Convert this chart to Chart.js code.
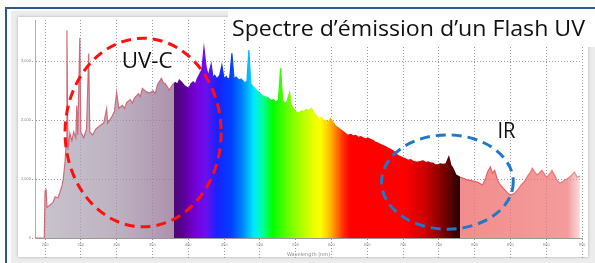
<!DOCTYPE html>
<html>
<head>
<meta charset="utf-8">
<script src="https://cdn.jsdelivr.net/npm/chart.js@4.4.1/dist/chart.umd.min.js"></script>
<style>
  html, body { margin: 0; padding: 0; background: #fff; }
  #wrap { position: relative; width: 595px; height: 263px; overflow: hidden; }
  #frame { position: absolute; left: 5px; top: 7px; right: -10px; bottom: -10px; border-top: 2px solid #2f5597; border-left: 2px solid #2f5597; }
  #shade { position: absolute; left: 11px; top: 11px; right: 0; bottom: 0; background: #ececec; }
  #panel { position: absolute; left: 18px; top: 17px; right: 7px; bottom: 6px; background: #fff; box-shadow: 0 0 3px rgba(0,0,0,0.25); }
  canvas { position: absolute; left: 0; top: 0; }
</style>
</head>
<body>
<div id="wrap">
  <div id="frame"></div>
  <div id="shade"></div>
  <div id="panel"></div>
  <canvas id="spectrum" width="595" height="263"></canvas>
</div>
<script>
// Spectrum data (wavelength in nm, intensity in counts)
const wavelengths = [
  186, 199, 200, 201.4, 202.8, 207, 211, 214, 218, 221, 224, 225.5, 228, 229.5, 230.6, 232, 234.7, 237.5,
  240, 243, 244.4, 245.8, 248.6, 250, 254, 258, 261, 262.5, 266.7, 271, 276, 282, 286, 287.5, 293, 297,
  300, 303, 308, 311, 314, 319, 322, 325, 330.6, 333, 336, 341.7, 346, 351, 354, 357, 362.5, 365, 368, 373.6, 377.8,
  382, 385, 387.5, 391, 394.4, 398, 401, 404, 407, 410, 412.5, 416.7, 419, 422, 425, 428, 432, 434.7, 437, 440, 444, 447,
  450, 453, 455.6, 458, 461, 464, 467, 471, 474, 478, 482, 484.7, 487.5, 490, 493, 496, 498.6, 502, 505.6, 509,
  512.5, 516, 519, 522, 526, 529, 532, 535, 537.5, 541.7, 544,
  548.6, 551, 554, 558, 561, 564, 568, 572, 576, 579, 582, 586, 589, 593, 596, 598.6, 603, 606, 610, 614, 617, 620, 623.6,
  627, 630.6, 634, 637.5, 641, 644, 648, 651, 655,
  658, 661, 665, 668, 672, 676, 679, 683, 686, 690, 693, 697, 700, 704, 707, 711, 714, 718, 721, 725, 728, 732, 735,
  739, 742, 745, 748.6, 752, 755.6, 760, 764, 767, 769,
  774, 779, 785, 790, 797, 804, 811, 815, 818, 822, 825, 828, 832, 836, 842, 846, 850, 856, 860, 865,
  869, 874, 878, 880.6, 885, 887.5, 891.7, 894, 899, 901, 905.6, 908, 912.5, 915, 919, 925.6, 929.7,
  932.5, 936.7, 939.6, 943, 947
];
const intensity = [
  0, 0, 800, 820, 520, 560, 600, 700, 680, 780, 900, 1000, 1300, 1600, 3520, 1500, 1780, 1650,
  1800, 1700, 2250, 1750, 3400, 1800, 1700, 1850, 3130, 1800, 1750, 1850, 1900, 1950, 2190, 1950, 2050, 2150,
  2470, 2200, 2250, 2200, 2300, 2350, 2290, 2380, 2450, 2400, 2540, 2480, 2460, 2500, 2450, 2600, 2710, 2640, 2620, 2510, 2600,
  2640, 2610, 2680, 2640, 2590, 2560, 2540, 2620, 2650, 2610, 2700, 2800, 2850, 3220, 2900, 2750, 2950, 2720, 2760, 2700, 2760, 2930,
  2700, 2740, 2690, 2720, 3135, 2700, 2730, 2680, 2700, 2640, 2650, 3190, 2620, 2580, 2540, 2500, 2475, 2430, 2400, 2390,
  2370, 2330, 2350, 2310, 2340, 2880, 2330, 2290, 2300, 2470, 2250,
  2170, 2140, 2120, 2160, 2135, 2180, 2170, 2200, 2120, 2080, 2030, 2050, 2000, 1990, 1965, 2030, 1950, 1900, 1865, 1830, 1800, 1770, 1745,
  1760, 1730, 1740, 1710, 1720, 1700, 1680, 1695, 1670,
  1660, 1630, 1610, 1590, 1570, 1550, 1525, 1500, 1480, 1440, 1400, 1380, 1360, 1340, 1320, 1330, 1300, 1290, 1290, 1300, 1310, 1280, 1290,
  1270, 1270, 1240, 1240, 1260, 1250, 1260, 1375, 1230, 1200,
  1070, 1035, 1010, 985, 970, 950, 900, 1000, 1120, 1205, 1100, 1150, 985, 900, 820, 765, 730, 760, 815, 900,
  950, 1050, 1120, 1185, 1100, 1070, 1120, 1150, 1060, 1035, 1100, 1150, 1050, 985, 930, 980, 1010,
  1035, 1080, 1120, 1035, 1050
];
const xTicks = [200, 250, 300, 350, 400, 450, 500, 550, 600, 650, 700, 750, 800, 850, 900, 950];
const yTicks = [0, 1000, 2000, 3000];
const xMin = 186, xMax = 950, yMax = 3700;

// Colour stops along the wavelength axis
const fillStops = [
  [186, 'rgba(182,178,190,0.75)'], [300, 'rgba(168,152,172,0.75)'], [379.9, 'rgba(152,118,152,0.8)'],
  [380, '#4a0a6e'], [395, '#5c00a0'], [410, '#7400d8'], [425, '#6a10f0'], [440, '#1a20ff'],
  [460, '#0040ff'], [475, '#0080ff'], [492, '#00eaff'], [505, '#00ff90'], [518, '#00ff00'],
  [545, '#80ff00'], [575, '#e8ff00'], [585, '#ffff00'], [597, '#ffc000'], [606, '#ff8000'],
  [616, '#ff3000'], [626, '#ff0000'], [700, '#ff0000'], [730, '#d00000'], [760, '#700000'],
  [779.9, '#240000'], [780, 'rgba(240,112,112,0.8)'], [930, 'rgba(240,122,122,0.75)'], [950, 'rgba(246,195,195,0.5)']
];
const lineStops = [
  [186, 'rgba(205,95,110,0.9)'], [379.9, 'rgba(205,95,110,0.9)'],
  ...fillStops.filter(s => s[0] >= 380 && s[0] < 780),
  [780, 'rgba(228,70,80,0.9)'], [950, 'rgba(232,110,110,0.7)']
];

// Annotations, placed in data units (nm, counts)
const redCircle = { x: 337, y: 1790, rx: 109, ry: 1600 };
const blueCircle = { x: 762, y: 950, rx: 92, ry: 800 };

function spectrumGradient(chart, stops) {
  if (!chart.chartArea) return null;
  const x = chart.scales.x;
  const g = chart.ctx.createLinearGradient(x.getPixelForValue(xMin), 0, x.getPixelForValue(xMax), 0);
  stops.forEach(([nm, col]) => g.addColorStop((nm - xMin) / (xMax - xMin), col));
  return g;
}

function drawEllipse(chart, e, color) {
  const { ctx, scales } = chart;
  const cx = scales.x.getPixelForValue(e.x), cy = scales.y.getPixelForValue(e.y);
  const rx = Math.abs(scales.x.getPixelForValue(e.x + e.rx) - cx);
  const ry = Math.abs(scales.y.getPixelForValue(e.y + e.ry) - cy);
  ctx.save();
  ctx.strokeStyle = color;
  ctx.lineWidth = 3;
  ctx.setLineDash([10, 6]);
  ctx.beginPath();
  ctx.ellipse(cx, cy, rx, ry, 0, 0, Math.PI * 2);
  ctx.stroke();
  ctx.restore();
}

// Draw text squeezed to a target width (Calibri-like look)
function drawFitted(ctx, text, x, y, size, width, color) {
  ctx.save();
  ctx.font = size + 'px "Open Sans", "Noto Sans", sans-serif';
  ctx.fillStyle = color;
  ctx.textBaseline = 'alphabetic';
  const w = ctx.measureText(text).width;
  ctx.translate(x, y);
  ctx.scale(width / w, 1);
  ctx.fillText(text, 0, 0);
  ctx.restore();
}

const annotations = {
  id: 'annotations',
  afterDraw(chart) {
    const { ctx, scales, chartArea } = chart;
    drawEllipse(chart, redCircle, '#ff1010');
    drawEllipse(chart, blueCircle, '#1f78c8');

    drawFitted(ctx, 'UV-C', scales.x.getPixelForValue(307), scales.y.getPixelForValue(2880), 22, 51, '#111');
    drawFitted(ctx, 'IR', scales.x.getPixelForValue(832), scales.y.getPixelForValue(1690), 22, 18, '#111');

    // title box
    ctx.save();
    ctx.fillStyle = '#fff';
    ctx.fillRect(228, 10, 367, 37);
    ctx.restore();
    drawFitted(ctx, 'Spectre d\u2019émission d\u2019un Flash UV', 232, 36, 21, 353, '#111');

    // axis title
    ctx.save();
    ctx.font = '5px "DejaVu Sans", sans-serif';
    ctx.fillStyle = '#888';
    ctx.textAlign = 'center';
    ctx.fillText('Wavelength (nm)', (chartArea.left + chartArea.right) / 2, 256);
    ctx.restore();
  }
};

const gridColor = 'rgba(120,120,120,0.75)';
const ctx = document.getElementById('spectrum').getContext('2d');
new Chart(ctx, {
  type: 'line',
  data: {
    datasets: [{
      data: wavelengths.map((w, i) => ({ x: w, y: intensity[i] })),
      borderWidth: 1.2,
      borderColor: c => spectrumGradient(c.chart, lineStops),
      backgroundColor: c => spectrumGradient(c.chart, fillStops),
      fill: 'origin',
      pointRadius: 0,
      tension: 0
    }]
  },
  options: {
    responsive: false,
    animation: false,
    layout: { padding: { left: 0, right: 13, top: 20, bottom: 0 } },
    plugins: { legend: { display: false }, tooltip: { enabled: false } },
    scales: {
      x: {
        type: 'linear',
        min: xMin,
        max: xMax,
        afterBuildTicks: s => { s.ticks = xTicks.map(v => ({ value: v })); },
        afterFit: s => { s.height = 25; },
        grid: { color: gridColor, tickLength: 22, tickBorderDash: [1, 2], tickColor: gridColor },
        border: { color: '#9a9a9a', width: 1, dash: [1, 2] },
        ticks: { padding: -18, color: '#888', font: { size: 4 }, maxRotation: 0 }
      },
      y: {
        min: 0,
        max: yMax,
        afterBuildTicks: s => { s.ticks = yTicks.map(v => ({ value: v })); },
        afterFit: s => { s.width = 35; },
        grid: { color: gridColor, tickLength: 3, tickBorderDash: [1, 2], tickColor: gridColor },
        border: { color: '#b0b0b0', width: 1, dash: [1, 2] },
        ticks: { padding: 1, color: '#888', font: { size: 4 } }
      }
    }
  },
  plugins: [annotations]
});
</script>
</body>
</html>
